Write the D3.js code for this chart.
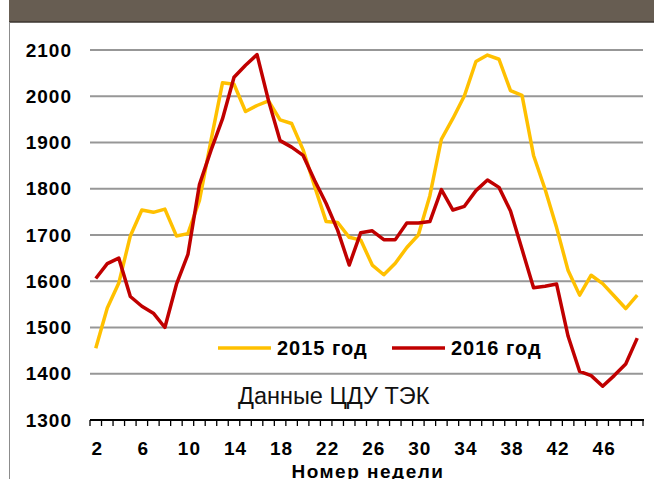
<html>
<head>
<meta charset="utf-8">
<script src="https://d3js.org/d3.v7.min.js"></script>
<style>
body {
	margin: 0;
	background: #fff;
	font-family: "Liberation Sans", Arial, sans-serif;
}
</style>
</head>
<body>
<div id="chart"></div>
<script>
	var weeks = [2, 3, 4, 5, 6, 7, 8, 9, 10, 11, 12, 13, 14, 15, 16, 17, 18, 19, 20, 21, 22, 23, 24, 25,
		26, 27, 28, 29, 30, 31, 32, 33, 34, 35, 36, 37, 38, 39, 40, 41, 42, 43, 44, 45, 46, 47, 48, 49];

	var y2015 = [1455, 1542, 1596, 1698, 1754, 1749, 1756, 1698, 1703, 1775, 1904, 2029, 2026, 1967, 1980, 1990,
		1949, 1941, 1884, 1805, 1729, 1727, 1695, 1689, 1635, 1614, 1639, 1673, 1700, 1785, 1907, 1952,
		2001, 2075, 2089, 2080, 2012, 2002, 1872, 1799, 1716, 1623, 1570, 1613, 1595, 1568, 1541, 1570];

	var y2016 = [1606, 1638, 1650, 1567, 1546, 1531, 1500, 1593, 1658, 1809, 1883, 1951, 2041, 2067, 2090, 1990,
		1904, 1890, 1872, 1818, 1768, 1710, 1635, 1705, 1709, 1690, 1690, 1726, 1726, 1729, 1798, 1754,
		1762, 1796, 1819, 1803, 1752, 1669, 1586, 1589, 1594, 1481, 1405, 1396, 1373, 1396, 1421, 1477];

	var yTicks = [1300, 1400, 1500, 1600, 1700, 1800, 1900, 2000, 2100];
	var xTickWeeks = [2, 6, 10, 14, 18, 22, 26, 30, 34, 38, 42, 46];
	var seriesNames = ["2015 год", "2016 год"];
	var colors = ["#FFC000", "#C00000"];

	var width = 654, height = 479;
	const plot = {left: 90, right: 643, top: 50, bottom: 420};

	var svg = d3.select("#chart").append("svg")
		.attr("width", width)
		.attr("height", height);

	// header bar and panel border
	svg.append("rect")
		.attr("x", 9).attr("y", 0)
		.attr("width", width - 9).attr("height", 22)
		.attr("fill", "#675d52");
	svg.append("line")
		.attr("x1", 9).attr("x2", width)
		.attr("y1", 22).attr("y2", 22)
		.attr("stroke", "#3b3630").attr("stroke-width", 1.5);
	svg.append("line")
		.attr("x1", 9.5).attr("x2", 9.5)
		.attr("y1", 22).attr("y2", height)
		.attr("stroke", "#8c8c8c").attr("stroke-width", 1);

	var x = d3.scaleBand()
		.domain(weeks)
		.range([plot.left, plot.right]);

	var y = d3.scaleLinear()
		.domain([1300, 2100])
		.range([plot.bottom, plot.top]);

	// gridlines
	svg.append("g")
		.selectAll("line")
		.data(yTicks.filter(d => d > 1300))
		.enter().append("line")
		.attr("x1", plot.left).attr("x2", plot.right)
		.attr("y1", d => y(d)).attr("y2", d => y(d))
		.attr("stroke", "#979797")
		.attr("stroke-width", 2);

	// y labels
	svg.append("g")
		.selectAll("text")
		.data(yTicks)
		.enter().append("text")
		.attr("x", 72)
		.attr("y", d => y(d))
		.attr("dy", "0.35em")
		.attr("text-anchor", "end")
		.style("font-size", "19px")
		.style("font-weight", "bold")
		.style("letter-spacing", "1px")
		.text(d => d);

	// x axis
	var xAxis = svg.append("g")
		.attr("transform", `translate(0,${plot.bottom})`);
	xAxis.append("line")
		.attr("x1", plot.left).attr("x2", plot.right + 1)
		.attr("stroke", "#000").attr("stroke-width", 2);
	xAxis.selectAll("line.tick")
		.data(weeks.concat(["end"]))
		.enter().append("line")
		.attr("class", "tick")
		.attr("x1", d => d === "end" ? plot.right : x(d))
		.attr("x2", d => d === "end" ? plot.right : x(d))
		.attr("y1", 0).attr("y2", 6)
		.attr("stroke", "#000").attr("stroke-width", 1.3);
	xAxis.selectAll("text")
		.data(xTickWeeks)
		.enter().append("text")
		.attr("x", d => x(d) + x.bandwidth() / 2 + 1.5)
		.attr("y", 35)
		.attr("text-anchor", "middle")
		.style("font-size", "19px")
		.style("font-weight", "bold")
		.style("letter-spacing", "1px")
		.text(d => d);

	svg.append("text")
		.attr("x", 368)
		.attr("y", 478)
		.attr("text-anchor", "middle")
		.style("font-size", "19px")
		.style("font-weight", "bold")
		.style("letter-spacing", "1.5px")
		.text("Номер недели");

	// lines
	var line = d3.line()
		.x((d, i) => x(weeks[i]) + x.bandwidth() / 2)
		.y(d => y(d));

	[y2015, y2016].forEach(function(s, k) {
		svg.append("path")
			.datum(s)
			.attr("fill", "none")
			.attr("stroke", colors[k])
			.attr("stroke-width", 3.5)
			.attr("stroke-linejoin", "round")
			.attr("d", line);
	});

	// legend
	var legendX = [218, 392];
	seriesNames.forEach(function(name, k) {
		svg.append("line")
			.attr("x1", legendX[k]).attr("x2", legendX[k] + 53)
			.attr("y1", 348).attr("y2", 348)
			.attr("stroke", colors[k]).attr("stroke-width", 3.5);
		svg.append("text")
			.attr("x", legendX[k] + 59)
			.attr("y", 355)
			.style("font-size", "20px")
			.style("font-weight", "bold")
			.style("letter-spacing", "1px")
			.text(name);
	});

	svg.append("text")
		.attr("x", 238)
		.attr("y", 404)
		.style("font-size", "23.5px")
		.style("fill", "#111")
		.text("Данные ЦДУ ТЭК");
</script>
</body>
</html>
